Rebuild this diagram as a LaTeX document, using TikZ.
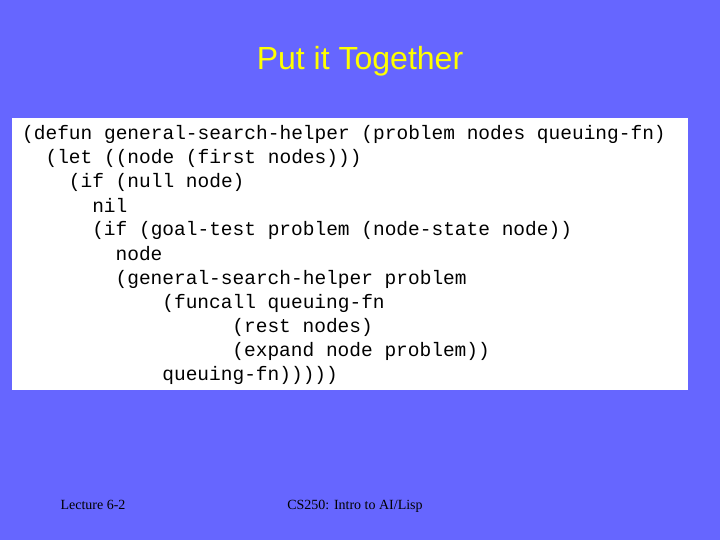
\documentclass[tikz,border=0pt]{standalone}
\usepackage{fontspec}
\setmainfont{Liberation Serif}
\newfontfamily\titlefont{Liberation Sans}
\newfontfamily\codefont{Liberation Mono}
\begin{document}
\begin{tikzpicture}[x=1pt,y=-1pt,
  code/.style={anchor=base west,inner sep=0pt,font=\codefont\fontsize{19.5}{22}\selectfont},
  foot/.style={anchor=base,inner sep=0pt,font=\fontsize{14}{16}\selectfont}]
\fill[fill={rgb,255:red,102;green,102;blue,255}] (0,0) rectangle (720,540);
\useasboundingbox (0,0) rectangle (720,540);
\node[font=\titlefont\fontsize{32}{36}\selectfont,text={rgb,255:red,255;green,255;blue,0}] (title) at (360,61) {Put it Together};
\fill[white] (12,118) rectangle (688,390);
\def\cw{11.68}
\node[code] (l1) at (22,140) {(defun general-search-helper (problem nodes queuing-fn)};
\node[code] (l2) at (22+2*\cw,164) {(let ((node (first nodes)))};
\node[code] (l3) at (22+4*\cw,188) {(if (null node)};
\node[code] (l4) at (22+6*\cw,212) {nil};
\node[code] (l5) at (22+6*\cw,236) {(if (goal-test problem (node-state node))};
\node[code] (l6) at (22+8*\cw,260) {node};
\node[code] (l7) at (22+8*\cw,284) {(general-search-helper problem};
\node[code] (l8) at (22+12*\cw,308) {(funcall queuing-fn};
\node[code] (l9) at (22+18*\cw,332) {(rest nodes)};
\node[code] (l10) at (22+18*\cw,356) {(expand node problem))};
\node[code] (l11) at (22+12*\cw,380) {queuing-fn)))))};
\node[foot] (f1) at (93,509) {Lecture 6-2};
\node[foot] (f2) at (355,509) {CS250: Intro to AI/Lisp};
\end{tikzpicture}
\end{document}
